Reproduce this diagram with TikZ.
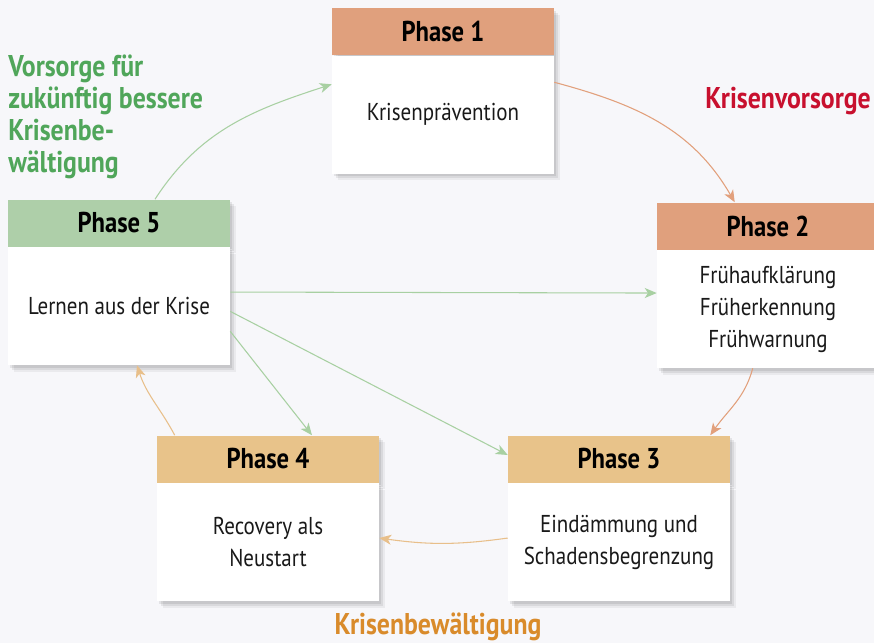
\documentclass[tikz,border=0pt]{standalone}
\usepackage{fontspec}
\setmainfont[FakeStretch=0.86]{PT Sans}
\usetikzlibrary{positioning,arrows.meta,shadows}
\definecolor{bgcol}{HTML}{F7F7FA}
\definecolor{headsalmon}{HTML}{E0A07D}
\definecolor{headtan}{HTML}{E8C38A}
\definecolor{headgreen}{HTML}{AECFA9}
\definecolor{arrsalmon}{HTML}{E2A07C}
\definecolor{arrtan}{HTML}{E8BF8A}
\definecolor{arrgreen}{HTML}{A8D0A2}
\definecolor{txtred}{HTML}{C8102E}
\definecolor{txtgreen}{HTML}{50A65A}
\definecolor{txtorange}{HTML}{D98B2B}
\tikzset{
  boxshadow/.style={
    drop shadow={shadow xshift=4.5pt, shadow yshift=-5pt, opacity=0.05, fill=black},
    drop shadow={shadow xshift=3pt, shadow yshift=-3.5pt, opacity=0.07, fill=black},
    drop shadow={shadow xshift=1.5pt, shadow yshift=-2pt, opacity=0.08, fill=black}},
  phasehead/.style={boxshadow, minimum width=166.5pt, minimum height=35.25pt, inner sep=0pt,
    font=\fontsize{21.5}{24}\selectfont\bfseries, text=black},
  phasebody/.style={boxshadow, fill=white, minimum width=166.5pt, minimum height=88.5pt, inner sep=0pt,
    align=center, font=\fontsize{18.3}{24}\selectfont, text=black!90},
  flow/.style={-{Stealth[length=9pt, width=7.5pt, inset=2.5pt]}, line width=0.8pt},
  phaselabel/.style={font=\fontsize{22.5}{24}\selectfont\bfseries, inner sep=0pt}
}
\begin{document}
\begin{tikzpicture}[x=0.75pt, y=0.75pt]
    % background
    \fill[bgcol] (0,0) rectangle (874,-643);
    \useasboundingbox (0,0) rectangle (874,-643);
    % phase 1
    \node[phasehead, fill=headsalmon] (p1h) at (443,-31.5) {Phase 1};
    \node[phasebody, below=0pt of p1h] (p1b) {Krisenprävention};
    % phase 2
    \node[phasehead, fill=headsalmon] (p2h) at (768,-226) {Phase 2};
    \node[phasebody, below=0pt of p2h] (p2b) {Frühaufklärung\\Früherkennung\\Frühwarnung};
    % phase 3
    \node[phasehead, fill=headtan] (p3h) at (619,-459) {Phase 3};
    \node[phasebody, below=0pt of p3h] (p3b) {Eindämmung und\\Schadensbegrenzung};
    % phase 4
    \node[phasehead, fill=headtan] (p4h) at (268,-459) {Phase 4};
    \node[phasebody, below=0pt of p4h] (p4b) {Recovery als\\Neustart};
    % phase 5
    \node[phasehead, fill=headgreen] (p5h) at (119,-223) {Phase 5};
    \node[phasebody, below=0pt of p5h] (p5b) {Lernen aus der Krise};
    % labels
    \node[phaselabel, text=txtred, anchor=east] (vorsorge) at (871,-101) {Krisenvorsorge};
    \node[phaselabel, text=txtgreen, anchor=north west, align=left] (zukunft) at (8,-55)
      {Vorsorge für\\zukünftig bessere\\Krisenbe-\\wältigung};
    \node[phaselabel, text=txtorange] (bewaeltigung) at (438,-627) {Krisenbewältigung};
    % cycle
    \draw[flow, arrsalmon] ([yshift=-20.25pt]p1b.north east) to[out=-15, in=120] ([xshift=58.5pt]p2h.north west);
    \draw[flow, arrsalmon] ([xshift=72pt]p2b.south west) to[out=-105, in=55] ([xshift=-15pt]p3h.north east);
    \draw[flow, arrtan] ([yshift=3pt]p3b.west) to[out=188, in=-8] ([yshift=3pt]p4b.east);
    \draw[flow, arrtan] ([xshift=13.5pt]p4h.north west) to[out=118, in=-72] ([xshift=13.5pt]p5b.south);
    \draw[flow, arrgreen] ([xshift=27pt]p5h.north) to[out=57, in=198] ([yshift=-21.75pt]p1b.north west);
    % from phase 5
    \draw[flow, arrgreen] ([yshift=10.5pt]p5b.east) -- ([yshift=12pt]p2b.west);
    \draw[flow, arrgreen] ([yshift=-4pt]p5b.east) -- ([yshift=3pt]p3h.west);
    \draw[flow, arrgreen] ([yshift=-19pt]p5b.east) -- ([xshift=33pt]p4h.north);
\end{tikzpicture}
\end{document}
